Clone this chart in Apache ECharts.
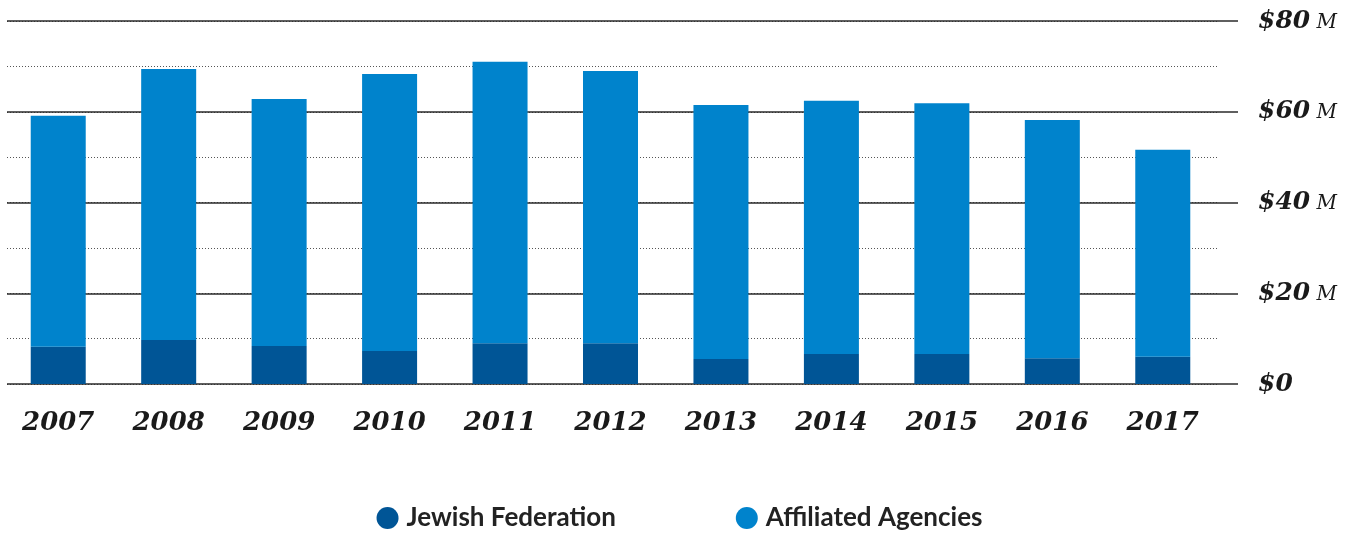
<!DOCTYPE html>
<html>
<head>
<meta charset="utf-8">
<script src="https://cdn.jsdelivr.net/npm/echarts@6/dist/echarts.min.js"></script>
<style>
  html, body { margin: 0; padding: 0; background: #fff; }
  #chart { width: 1359px; height: 533px; }
</style>
</head>
<body>
<div id="chart"></div>
<script>
// years along the bottom
const years = ['2007', '2008', '2009', '2010', '2011', '2012', '2013', '2014', '2015', '2016', '2017'];
// Jewish Federation part (millions $)
const federation = [8.2, 9.7, 8.4, 7.3, 9.0, 9.0, 5.5, 6.6, 6.6, 5.7, 6.0];
// Affiliated Agencies part, stacked on top (millions $)
const agencies = [50.9, 59.7, 54.4, 61.0, 62.0, 60.0, 56.0, 55.8, 55.3, 52.5, 45.6];
// right axis tick labels
const tickValues = [0, 20, 40, 60, 80];

const darkBlue = '#005596';
const lightBlue = '#0083cc';
const serif = '"DejaVu Serif", "Liberation Serif", serif';

const chart = echarts.init(document.getElementById('chart'));

const option = {
  animation: false,
  legend: {
    top: 505,
    left: 'center',
    padding: 0,
    icon: 'circle',
    itemWidth: 22,
    itemHeight: 22,
    itemGap: 120,
    textStyle: {
      fontFamily: 'Lato, "Open Sans", sans-serif',
      fontWeight: 'bold',
      fontSize: 26,
      color: '#222',
      padding: [0, 0, 0, 3]
    },
    data: ['Jewish Federation', 'Affiliated Agencies']
  },
  grid: [
    // bars
    { left: 3, right: 141, top: 21, bottom: 149 },
    // dotted lines every 10
    { left: 7, right: 141, top: 21, bottom: 149 },
    // solid lines every 20 + labels
    { left: 7, right: 121, top: 21, bottom: 149 }
  ],
  xAxis: [
    {
      gridIndex: 0,
      type: 'category',
      data: years,
      axisLine: { show: false },
      axisTick: { show: false },
      axisLabel: {
        margin: 26,
        fontFamily: serif,
        fontStyle: 'italic',
        fontWeight: 'bold',
        fontSize: 26,
        color: '#1a1a1a'
      }
    },
    { gridIndex: 1, type: 'value', show: false },
    { gridIndex: 2, type: 'value', show: false }
  ],
  yAxis: [
    { gridIndex: 0, type: 'value', min: 0, max: 80, show: false },
    {
      gridIndex: 1, type: 'value', min: 0, max: 80, interval: 10,
      axisLine: { show: false }, axisTick: { show: false }, axisLabel: { show: false },
      splitLine: { lineStyle: { color: '#555', type: [1, 2], width: 1 } }
    },
    {
      gridIndex: 2, type: 'value', min: 0, max: 80, interval: 20, position: 'right',
      axisLine: { show: false }, axisTick: { show: false },
      splitLine: { lineStyle: { color: '#2a2a2a', width: 1.6 } },
      axisLabel: {
        margin: 20,
        formatter: function (v) {
          if (tickValues.indexOf(v) < 0) return '';
          return v === 0 ? '{big|$0}' : '{big|$' + v + '}{sm| M}';
        },
        rich: {
          big: { fontFamily: serif, fontStyle: 'italic', fontWeight: 'bold', fontSize: 25, color: '#1a1a1a' },
          sm: { fontFamily: serif, fontStyle: 'italic', fontSize: 20, color: '#1a1a1a', padding: [3, 0, 0, 0] }
        }
      }
    }
  ],
  series: [
    {
      name: 'Jewish Federation',
      type: 'bar',
      stack: 'total',
      xAxisIndex: 0,
      yAxisIndex: 0,
      barWidth: 55,
      itemStyle: { color: darkBlue },
      data: federation
    },
    {
      name: 'Affiliated Agencies',
      type: 'bar',
      stack: 'total',
      xAxisIndex: 0,
      yAxisIndex: 0,
      barWidth: 55,
      itemStyle: { color: lightBlue },
      data: agencies
    }
  ]
};

chart.setOption(option);
</script>
</body>
</html>
